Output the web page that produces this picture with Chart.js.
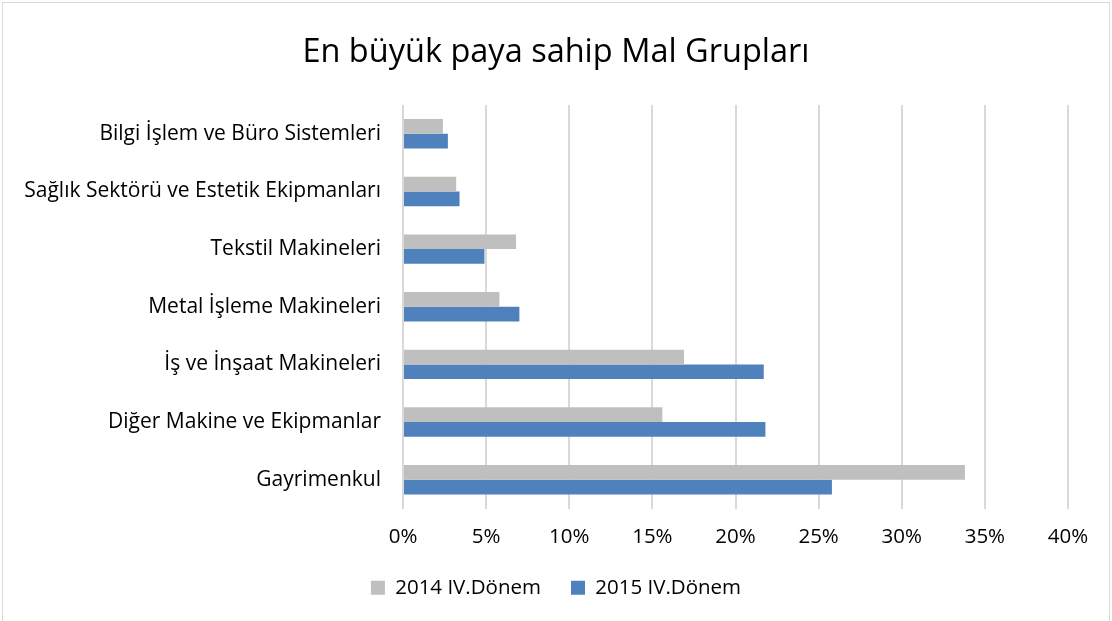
<!DOCTYPE html>
<html>
<head>
<meta charset="utf-8">
<script src="https://cdn.jsdelivr.net/npm/chart.js@4"></script>
<style>
  html, body { margin: 0; padding: 0; background: #fff; }
  #wrap { position: absolute; left: 2px; top: 2px; width: 1106px; height: 625px; border: 1px solid #d9d9d9; }
  #box { position: absolute; left: 0; top: 0; width: 1112px; height: 621px; }
</style>
</head>
<body>
<div id="wrap"></div>
<div id="box"><canvas id="chart"></canvas></div>
<script>
// categories, top to bottom
var categories = [
    'Bilgi İşlem ve Büro Sistemleri',
    'Sağlık Sektörü ve Estetik Ekipmanları',
    'Tekstil Makineleri',
    'Metal İşleme Makineleri',
    'İş ve İnşaat Makineleri',
    'Diğer Makine ve Ekipmanlar',
    'Gayrimenkul'
];
var seriesNames = ['2014 IV.Dönem', '2015 IV.Dönem'];
var values2014 = [2.4, 3.2, 6.8, 5.8, 16.9, 15.6, 33.8];
var values2015 = [2.7, 3.4, 4.9, 7.0, 21.7, 21.8, 25.8];
var tickValues = [0, 5, 10, 15, 20, 25, 30, 35, 40];

var font = '"Open Sans", "DejaVu Sans", sans-serif';

new Chart(document.getElementById('chart'), {
    type: 'bar',
    data: {
        labels: categories,
        datasets: [{
            label: seriesNames[0],
            data: values2014,
            backgroundColor: '#bfbfbf'
        }, {
            label: seriesNames[1],
            data: values2015,
            backgroundColor: '#4f81bd'
        }]
    },
    options: {
        indexAxis: 'y',
        responsive: true,
        maintainAspectRatio: false,
        animation: false,
        datasets: {
            bar: { categoryPercentage: 0.51, barPercentage: 1.0 }
        },
        layout: { padding: { left: 0, right: 0, top: 0, bottom: 13 } },
        scales: {
            x: {
                min: 0,
                max: 40,
                afterBuildTicks: function (scale) {
                    scale.ticks = tickValues.map(function (v) { return { value: v }; });
                },
                afterFit: function (scale) { scale.height = 39; },
                ticks: {
                    callback: function (v) { return v + '%'; },
                    color: '#000',
                    padding: 16,
                    maxRotation: 0,
                    font: { family: font, size: 20.5 }
                },
                grid: { color: '#d9d9d9', lineWidth: 2, drawTicks: false },
                border: { display: false }
            },
            y: {
                afterFit: function (scale) { scale.width = 403; },
                ticks: {
                    color: '#000',
                    padding: 14,
                    font: { family: font, size: 21 }
                },
                grid: { display: false },
                border: { display: false }
            },
            // empty right margin so the title and legend centre on the whole box
            yRight: {
                type: 'category',
                position: 'right',
                afterFit: function (scale) { scale.width = 44; },
                ticks: { display: false },
                grid: { display: false },
                border: { display: false }
            }
        },
        plugins: {
            title: {
                display: true,
                text: 'En büyük paya sahip Mal Grupları',
                color: '#000',
                font: { family: font, size: 32.5, weight: 'normal', lineHeight: 1.2 },
                padding: { top: 33, bottom: 33 }
            },
            legend: {
                position: 'bottom',
                labels: {
                    color: '#000',
                    boxWidth: 14,
                    boxHeight: 14,
                    padding: 30,
                    font: { family: font, size: 20.5 }
                }
            },
            tooltip: { enabled: false }
        }
    }
});
</script>
</body>
</html>
